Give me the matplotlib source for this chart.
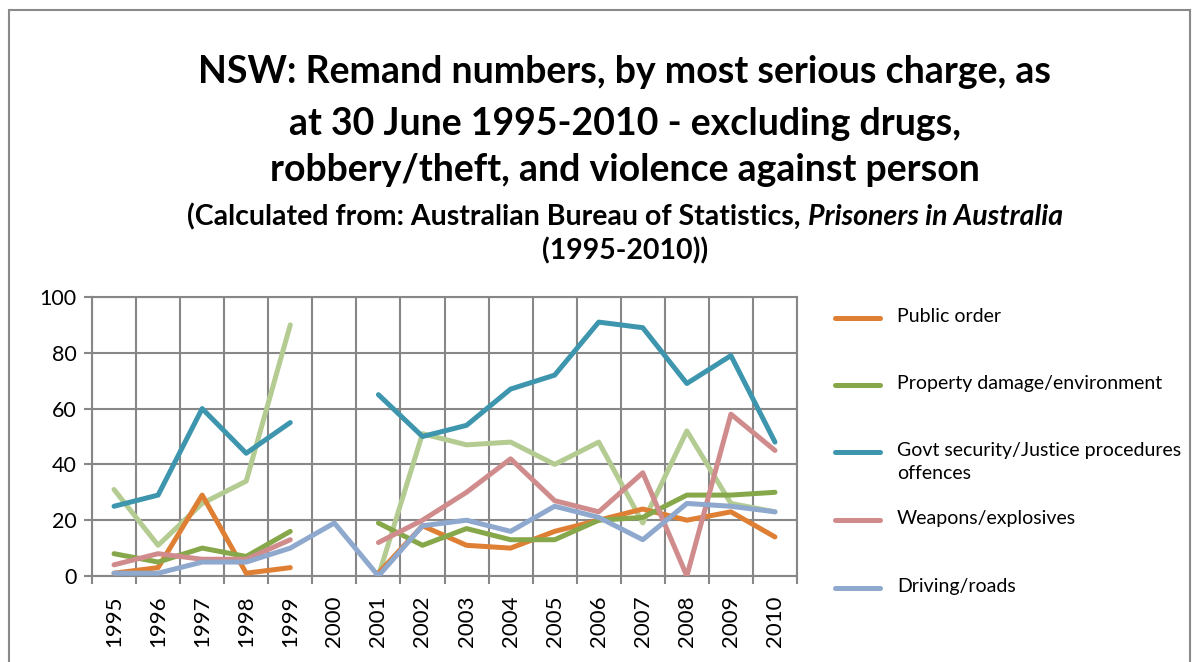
import numpy as np
import matplotlib
matplotlib.use('Agg')
import matplotlib.pyplot as plt
from matplotlib.patches import Rectangle
from matplotlib.lines import Line2D

plt.rcParams['font.family'] = ['Lato', 'DejaVu Sans']

# 数据
years = [str(y) for y in range(1995, 2011)]
nan = np.nan
public_order = [1, 3, 29, 1, 3, nan, 1, 18, 11, 10, 16, 20, 24, 20, 23, 14]
property_damage = [8, 5, 10, 7, 16, nan, 19, 11, 17, 13, 13, 20, 21, 29, 29, 30]
govt_security = [25, 29, 60, 44, 55, nan, 65, 50, 54, 67, 72, 91, 89, 69, 79, 48]
weapons = [4, 8, 6, 6, 13, nan, 12, 20, 30, 42, 27, 23, 37, 0, 58, 45]
driving = [1, 1, 5, 5, 10, 19, 0, 18, 20, 16, 25, 21, 13, 26, 25, 23]
other = [31, 11, 26, 34, 90, nan, 0, 51, 47, 48, 40, 48, 19, 52, 26, 23]

series = [
    ('Public order', public_order, '#DE7F34'),
    ('Property damage/environment', property_damage, '#86A84A'),
    ('Govt security/Justice procedures\noffences', govt_security, '#3D96AD'),
    ('Weapons/explosives', weapons, '#D08C8C'),
    ('Driving/roads', driving, '#8EA8CE'),
]
other_color = '#B4CB92'
grid_c = '#878787'

fig = plt.figure(figsize=(12.02, 6.62), dpi=100)
W, H = 1202.0, 662.0

# 外框
fig.patches.append(Rectangle((9 / W, -0.1), 1181 / W, 1.1 - 10 / H, transform=fig.transFigure,
                             fill=False, edgecolor='#8a8a8a', lw=1.5))

ax = fig.add_axes([92 / W, 1 - 576 / H, 705 / W, 279 / H])
x = np.arange(len(years))

# 先画未列入图例的一条
ax.plot(x, other, color=other_color, lw=3.6, solid_capstyle='round', solid_joinstyle='round', zorder=3)
for name, vals, c in series:
    ax.plot(x, vals, color=c, lw=3.6, solid_capstyle='round', solid_joinstyle='round', zorder=3)

ax.set_xlim(-0.5, len(years) - 0.5)
ax.set_ylim(0, 100)
ax.set_yticks(np.arange(0, 101, 20))
ax.set_xticks(x)
ax.set_xticklabels(years, rotation=90, fontsize=16)
ax.tick_params(axis='y', labelsize=15.5, length=6, color=grid_c, width=1.5, pad=5)
ax.tick_params(axis='x', which='major', length=0, pad=14)
ax.set_xticks(np.arange(-0.5, len(years), 1), minor=True)
ax.tick_params(axis='x', which='minor', length=6, color=grid_c, width=1.5)
ax.grid(True, which='minor', axis='x', color=grid_c, lw=1.5, zorder=0)
ax.grid(True, which='major', axis='y', color=grid_c, lw=1.5, zorder=0)
for s in ax.spines.values():
    s.set_color(grid_c)
    s.set_linewidth(1.5)
ax.set_axisbelow(True)

# 图例（手动）
leg_y = [318, 385, 452, 520, 588]
for (name, vals, c), yy in zip(series, leg_y):
    fig.lines.append(Line2D([835 / W, 880 / W], [1 - yy / H, 1 - yy / H], transform=fig.transFigure,
                            color=c, lw=3.6, solid_capstyle='round'))
    fig.text(897 / W, 1 - (yy - 10) / H, name, fontsize=14, va='top', ha='left', linespacing=1.45)

# 标题
cx = 625 / W
title_lines = ['NSW: Remand numbers, by most serious charge, as',
               'at 30 June 1995-2010 - excluding drugs,',
               'robbery/theft, and violence against person']
for t, yy in zip(title_lines, [72, 124, 170]):
    fig.text(cx, 1 - yy / H, t, fontsize=27, weight='bold', ha='center', va='center')

renderer = fig.canvas.get_renderer()
p1 = fig.text(0, 1 - 217 / H, '(Calculated from: Australian Bureau of Statistics, ', fontsize=20.5,
              weight='bold', ha='left', va='center')
p2 = fig.text(0, 1 - 217 / H, 'Prisoners in Australia', fontsize=20.5, weight='bold', style='italic',
              ha='left', va='center')
w1 = p1.get_window_extent(renderer).width
w2 = p2.get_window_extent(renderer).width
start = cx * W - (w1 + w2) / 2
p1.set_x(start / W)
p2.set_x((start + w1) / W)
fig.text(cx, 1 - 251 / H, '(1995-2010))', fontsize=20.5, weight='bold', ha='center', va='center')

fig.savefig('out.png', dpi=100)
